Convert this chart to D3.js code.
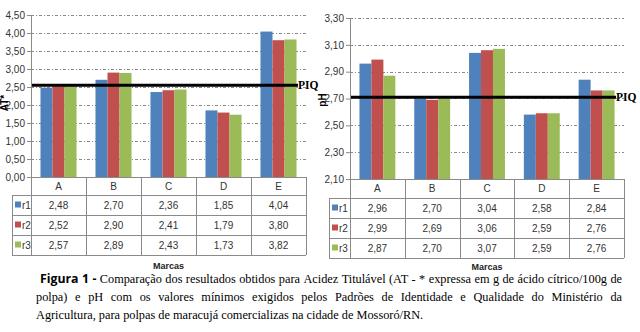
<!DOCTYPE html>
<html>
<head>
<meta charset="utf-8">
<script src="https://cdn.jsdelivr.net/npm/d3@7"></script>
<style>
	body { margin: 0; background: #fff; }
	svg { display: block; }
</style>
</head>
<body>
<div id="graph"></div>
<script>
// Data
var marcas = ["A", "B", "C", "D", "E"];
var series = ["r1", "r2", "r3"];
var colors = ["#4f81bd", "#c0504d", "#9bbb59"];

var at_r1 = [2.48, 2.70, 2.36, 1.85, 4.04];
var at_r2 = [2.52, 2.90, 2.41, 1.79, 3.80];
var at_r3 = [2.57, 2.89, 2.43, 1.73, 3.82];
var at_ticks = [0, 0.5, 1, 1.5, 2, 2.5, 3, 3.5, 4, 4.5];
var at_piq = 2.55;

var ph_r1 = [2.96, 2.70, 3.04, 2.58, 2.84];
var ph_r2 = [2.99, 2.69, 3.06, 2.59, 2.76];
var ph_r3 = [2.87, 2.70, 3.07, 2.59, 2.76];
var ph_ticks = [2.1, 2.3, 2.5, 2.7, 2.9, 3.1, 3.3];
var ph_piq = 2.71;

var caption_1 = "Comparação dos resultados obtidos para Acidez Titulável (AT - * expressa em g de ácido cítrico/100g de";
var caption_2 = "polpa) e pH com os valores mínimos exigidos pelos Padrões de Identidade e Qualidade do Ministério da";
var caption_3 = "Agricultura, para polpas de maracujá comercializas na cidade de Mossoró/RN.";

var pt = d3.formatLocale({decimal: ",", thousands: ".", grouping: [3], currency: ["R$", ""]});
var fmt = pt.format(".2f");
var narrow = "'Liberation Sans Narrow', 'Arial Narrow', Arial, sans-serif";
var serif = "'Liberation Serif', 'Times New Roman', serif";

var svg = d3.select("#graph").append("svg")
	.attr("width", 640)
	.attr("height", 332);

// make_chart
//   o.left/o.right: plot x range, o.top/o.bottom: plot y range
//   o.table_left: left edge of data table, o.rows: y of table row borders
function make_chart(o) {
	var g = svg.append("g");

	var x = d3.scaleBand()
		.domain(marcas)
		.range([o.left, o.right])
		.paddingInner(0.345)
		.paddingOuter(0.1725);
	var step = x.step();
	var xs = d3.scaleBand()
		.domain(series)
		.range([0, x.bandwidth()]);
	var y = d3.scaleLinear()
		.domain(o.domain)
		.range([o.bottom, o.top]);

	// gridlines
	g.selectAll(".grid")
		.data(o.ticks.slice(1))
		.enter().append("line")
		.attr("x1", o.left)
		.attr("x2", o.right)
		.attr("y1", function(d) { return Math.round(y(d)) + 0.5; })
		.attr("y2", function(d) { return Math.round(y(d)) + 0.5; })
		.style("stroke", "#8a8a8a")
		.style("stroke-dasharray", "3,2,1,2");

	// bars
	var data = [];
	o.values.forEach(function(vals, s) {
		vals.forEach(function(v, i) {
			data.push({marca: marcas[i], serie: series[s], value: v, color: colors[s]});
		});
	});
	g.selectAll(".bar")
		.data(data)
		.enter().append("rect")
		.attr("x", function(d) { return x(d.marca) + xs(d.serie); })
		.attr("width", xs.bandwidth())
		.attr("y", function(d) { return y(d.value); })
		.attr("height", function(d) { return o.bottom - y(d.value); })
		.attr("fill", function(d) { return d.color; });

	// PIQ line
	g.append("line")
		.attr("x1", o.left)
		.attr("x2", o.piq_end)
		.attr("y1", y(o.piq))
		.attr("y2", y(o.piq))
		.style("stroke", "#000")
		.style("stroke-width", 3);
	g.append("text")
		.attr("x", o.piq_end)
		.attr("y", y(o.piq) + 4)
		.text("PIQ")
		.style("font-family", serif)
		.style("font-weight", "bold")
		.style("font-size", "11.5px");

	// y axis
	var axis = g.append("g")
		.attr("transform", "translate(" + o.left + ",0)")
		.call(d3.axisLeft(y).tickValues(o.ticks).tickFormat(fmt).tickSize(4).tickPadding(2));
	axis.select(".domain").attr("stroke", "#8a8a8a");
	axis.selectAll(".tick line").attr("stroke", "#8a8a8a");
	axis.selectAll("text")
		.style("font-family", narrow)
		.style("font-size", "10px")
		.attr("fill", "#333");

	g.append("text")
		.attr("transform", "translate(" + o.ylabel_x + "," + o.ylabel_y + ") rotate(-90)")
		.style("text-anchor", "middle")
		.style("font-family", "Arial, sans-serif")
		.style("font-weight", "bold")
		.style("font-size", "10px")
		.text(o.ylabel);

	// data table
	var border = "#8a8a8a";
	var r = o.rows;
	g.append("line")
		.attr("x1", o.left).attr("x2", o.right)
		.attr("y1", r[0] + 0.5).attr("y2", r[0] + 0.5)
		.style("stroke", border);
	for (var k = 1; k < r.length; k++) {
		g.append("line")
			.attr("x1", o.table_left).attr("x2", o.right)
			.attr("y1", r[k] + 0.5).attr("y2", r[k] + 0.5)
			.style("stroke", border);
	}
	g.append("line")
		.attr("x1", o.table_left + 0.5).attr("x2", o.table_left + 0.5)
		.attr("y1", r[1]).attr("y2", r[r.length - 1])
		.style("stroke", border);
	var edges = marcas.map(function(m) { return x(m) - step * 0.1725; });
	edges.push(o.right);
	g.selectAll(".vline")
		.data(edges)
		.enter().append("line")
		.attr("x1", function(d) { return Math.round(d) + 0.5; })
		.attr("x2", function(d) { return Math.round(d) + 0.5; })
		.attr("y1", r[0])
		.attr("y2", r[r.length - 1])
		.style("stroke", border);

	// category row
	g.selectAll(".cat")
		.data(marcas)
		.enter().append("text")
		.attr("x", function(d) { return x(d) + x.bandwidth() / 2; })
		.attr("y", (r[0] + r[1]) / 2 + 3.5)
		.style("text-anchor", "middle")
		.style("font-family", narrow)
		.style("font-size", "10px")
		.attr("fill", "#333")
		.text(function(d) { return d; });

	// value rows
	o.values.forEach(function(vals, s) {
		var cy = (r[s + 1] + r[s + 2]) / 2;
		g.append("rect")
			.attr("x", o.table_left + 3)
			.attr("y", cy - 3.5)
			.attr("width", 6)
			.attr("height", 6)
			.attr("fill", colors[s]);
		g.append("text")
			.attr("x", o.table_left + 10)
			.attr("y", cy + 3.5)
			.style("font-family", narrow)
			.style("font-size", "10px")
			.attr("fill", "#333")
			.text(series[s]);
		g.selectAll(".v" + s)
			.data(vals)
			.enter().append("text")
			.attr("x", function(d, i) { return x(marcas[i]) + x.bandwidth() / 2; })
			.attr("y", cy + 3.5)
			.style("text-anchor", "middle")
			.style("font-family", narrow)
			.style("font-size", "10px")
			.attr("fill", "#333")
			.text(function(d) { return fmt(d); });
	});

	g.append("text")
		.attr("x", (o.left + o.right) / 2)
		.attr("y", o.marcas_y)
		.style("text-anchor", "middle")
		.style("font-family", narrow)
		.style("font-weight", "bold")
		.style("font-size", "9px")
		.attr("fill", "#222")
		.text("Marcas");
}

make_chart({
	left: 31, right: 306, top: 15, bottom: 177,
	domain: [0, 4.5], ticks: at_ticks,
	values: [at_r1, at_r2, at_r3],
	piq: at_piq, piq_end: 298,
	ylabel: "AT*", ylabel_x: 8, ylabel_y: 103,
	table_left: 12, rows: [177, 195, 215, 235, 255],
	marcas_y: 269
});

make_chart({
	left: 350, right: 624, top: 18, bottom: 179,
	domain: [2.1, 3.3], ticks: ph_ticks,
	values: [ph_r1, ph_r2, ph_r3],
	piq: ph_piq, piq_end: 616,
	ylabel: "pH", ylabel_x: 326, ylabel_y: 100,
	table_left: 329, rows: [179, 198, 218, 238, 258],
	marcas_y: 270
});

// Caption, justified word by word
var cap_left = 36, cap_right = 622, cap_size = "12.3px";

function caption_line(words, y, left, justify) {
	var items = words.map(function(w) {
		var t = svg.append("text")
			.attr("y", y)
			.style("font-family", w.bold ? "'Open Sans', Arial, sans-serif" : serif)
			.style("font-weight", w.bold ? "bold" : "normal")
			.style("font-size", cap_size)
			.text(w.text);
		return {node: t, width: t.node().getComputedTextLength()};
	});
	var total = d3.sum(items, function(d) { return d.width; });
	var gap = justify ? (cap_right - left - total) / (items.length - 1) : 3.1;
	var cx = left;
	items.forEach(function(d) {
		d.node.attr("x", cx);
		cx += d.width + gap;
	});
}

function words_of(s, bold) {
	return s.split(" ").map(function(w) { return {text: w, bold: bold}; });
}

caption_line(words_of("Figura 1 -", true).concat(words_of(caption_1, false)), 283, cap_left + 4, true);
caption_line(words_of(caption_2, false), 301, cap_left, true);
caption_line(words_of(caption_3, false), 319, cap_left, false);
</script>
</body>
</html>
